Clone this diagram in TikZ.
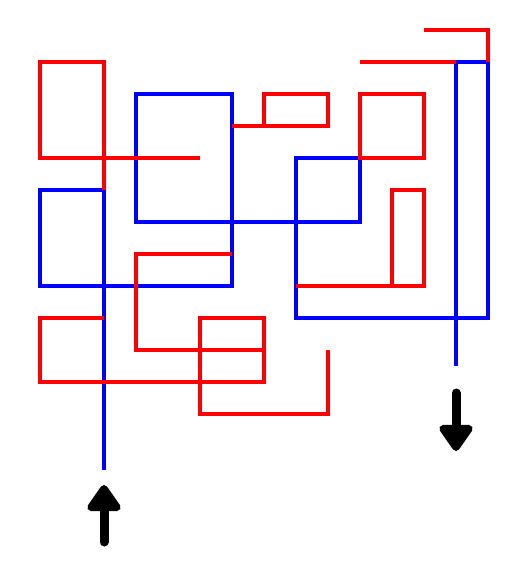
\documentclass[tikz,border=0pt]{standalone}
\usepackage{tikz}
\usetikzlibrary{arrows.meta}

\begin{document}
\begin{tikzpicture}[x=1bp, y=-1bp,
    bluewire/.style={draw=blue, line width=4bp},
    redwire/.style={draw=red, line width=4bp},
    bigarrow/.style={draw=black, line width=9bp, line cap=round,
        -{Triangle[round, length=29bp, width=38bp]}}]

            \useasboundingbox (0,0) rectangle (528,576);
            \coordinate (in) at (104,470);
            \coordinate (out) at (456,366);

            % the blue way through
            \draw[bluewire] (in) -- (104,190) -- (40,190) -- (40,286) -- (232,286)
                -- (232,94) -- (136,94) -- (136,222) -- (360,222) -- (360,158)
                -- (296,158) -- (296,318) -- (488,318) -- (488,62) -- (456,62) -- (out);

            % red dead ends
            \draw[redwire] (200,158) -- (40,158) -- (40,62) -- (104,62) -- (104,190);
            \draw[redwire] (232,126) -- (328,126) -- (328,94) -- (264,94) -- (264,126);
            \draw[redwire] (360,158) rectangle (424,94);
            \draw[redwire] (296,286) -- (424,286) -- (424,190) -- (392,190) -- (392,286);
            \draw[redwire] (360,62) -- (456,62);
            \draw[redwire] (424,30) -- (488,30) -- (488,62);
            \draw[redwire] (232,254) -- (136,254) -- (136,350) -- (264,350);
            \draw[redwire] (104,318) -- (40,318) -- (40,382) -- (264,382) -- (264,318)
                -- (200,318) -- (200,414) -- (328,414) -- (328,350);

            % entry and exit
            \draw[bigarrow] ([yshift=-72bp]in) -- ([yshift=-15bp]in);
            \draw[bigarrow] ([yshift=-27bp]out) -- ([yshift=-85bp]out);

\end{tikzpicture}
\end{document}
